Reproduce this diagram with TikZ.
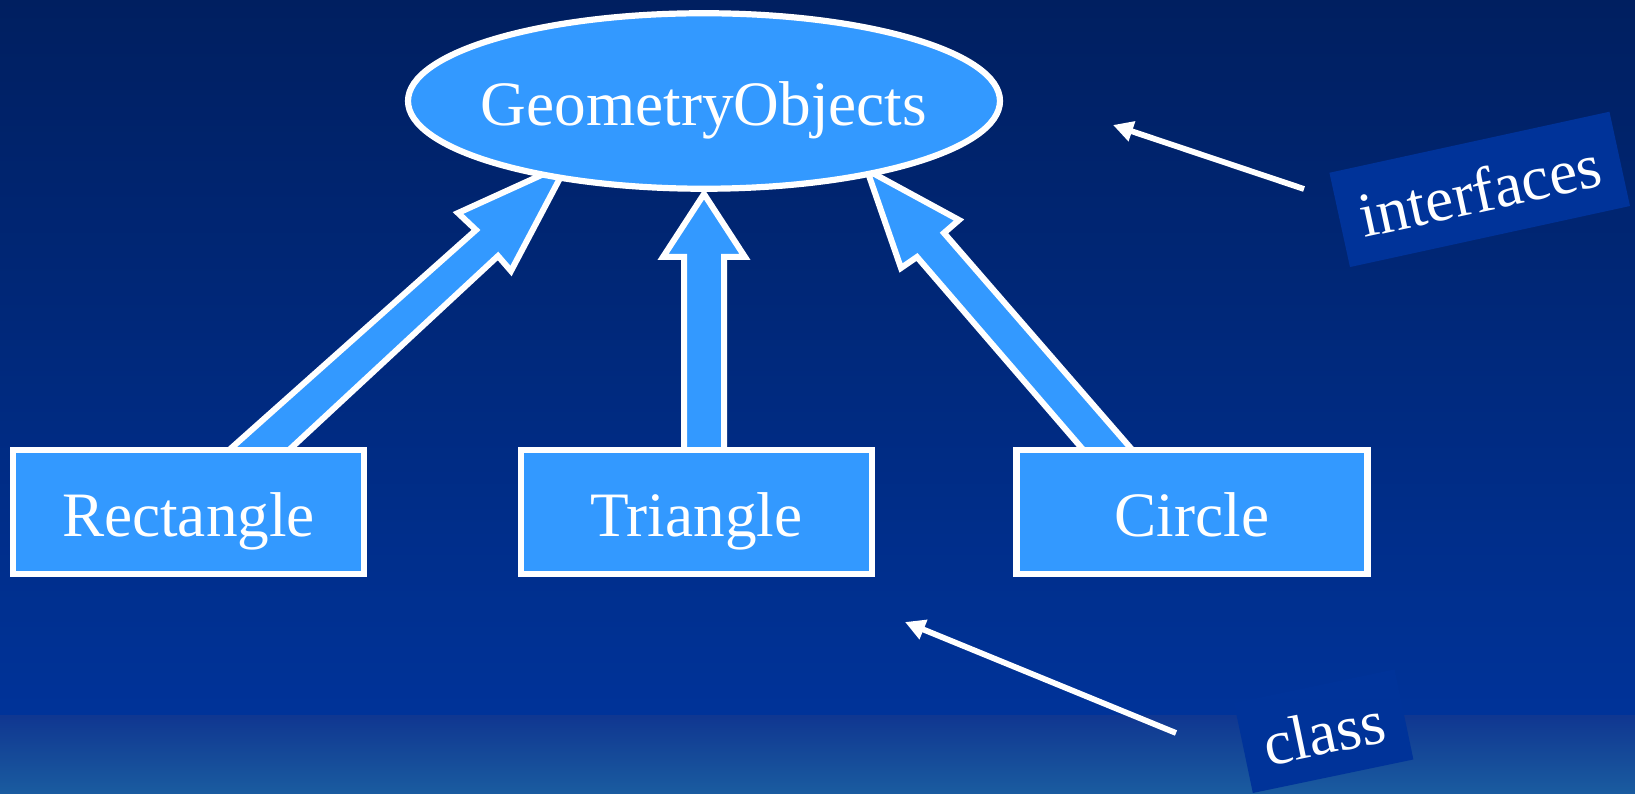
\documentclass[tikz,border=0pt]{standalone}
\usepackage{fontspec}
\setmainfont{Liberation Serif}
\usetikzlibrary{positioning, arrows.meta, shapes.geometric, calc, backgrounds}

\definecolor{bgtop}{RGB}{0,31,96}
\definecolor{bgmid}{RGB}{0,51,153}
\definecolor{bandtop}{RGB}{16,55,145}
\definecolor{bandbot}{RGB}{26,92,160}
\definecolor{boxblue}{RGB}{51,153,255}
\definecolor{tagblue}{RGB}{0,51,153}

\begin{document}
\begin{tikzpicture}[
    x=0.1mm, y=-0.1mm,
    font=\fontsize{18}{21.6}\selectfont,
    cls/.style={rectangle, draw=white, fill=boxblue, line width=0.62mm, text=white, minimum width=35.1mm, minimum height=12.4mm, inner sep=0pt, text height=14pt, text depth=0pt},
    iface/.style={ellipse, draw=white, fill=boxblue, line width=0.62mm, text=white, minimum width=59.2mm, minimum height=17.55mm, inner sep=0pt, text height=14pt, text depth=0pt},
    inherit/.style={draw=white, fill=boxblue, line width=0.6mm},
    pointer/.style={-{Triangle[length=2mm, width=2mm]}, draw=white, line width=0.58mm},
    tag/.style={fill=tagblue, text=white, inner sep=0pt, text height=13pt, text depth=0pt}
]
\useasboundingbox (0,0) rectangle (1635,794);

% Interface
\node[iface] (geo) at (704,101) {\makebox[0pt]{GeometryObjects}};

% Classes
\node[cls] (rect) at (188.5,512) {Rectangle};
\node[cls] (tri) at (696.5,512) {Triangle};
\node[cls] (circ) at (1192,512) {Circle};

% Tags
\node[tag, rotate=12.3, minimum width=28.66mm, minimum height=9.65mm] (ifc) at (1479.7,189.4) {interfaces};
\node[tag, rotate=11.8, minimum width=16.4mm, minimum height=9.2mm] (kind) at (1323.7,731.2) {class};

% Pointers
\coordinate (ifcfrom) at (1304,189);
\coordinate (ifcto) at (1113,125);
\coordinate (kindfrom) at (1176,733);
\coordinate (kindto) at (905,622);
\draw[pointer] (ifcfrom) -- (ifcto);
\draw[pointer] (kindfrom) -- (kindto);

\begin{pgfonlayer}{background}
% Background
\shade[top color=bgtop, bottom color=bgmid] (0,0) rectangle (1635,716);
\shade[top color=bandtop, bottom color=bandbot] (0,716) rectangle (1635,794);

% Inheritance arrows
\draw[inherit] ($(rect.north)+(38.5,5)$) -- (476,230) -- (458,213) -- (568,163)
    -- (511,271) -- (498,256) -- ($(rect.north)+(98.5,5)$) -- cycle;
\draw[inherit] ($(tri.north)+(-12.5,5)$) -- (684,257) -- (663,257) -- (704,194)
    -- (745,257) -- (724,257) -- ($(tri.north)+(27.5,5)$) -- cycle;
\draw[inherit] ($(circ.north)+(-107,5)$) -- (917,257) -- (901,268) -- (867,170)
    -- (959,220) -- (944,233) -- ($(circ.north)+(-58,5)$) -- cycle;
\end{pgfonlayer}

\end{tikzpicture}
\end{document}
